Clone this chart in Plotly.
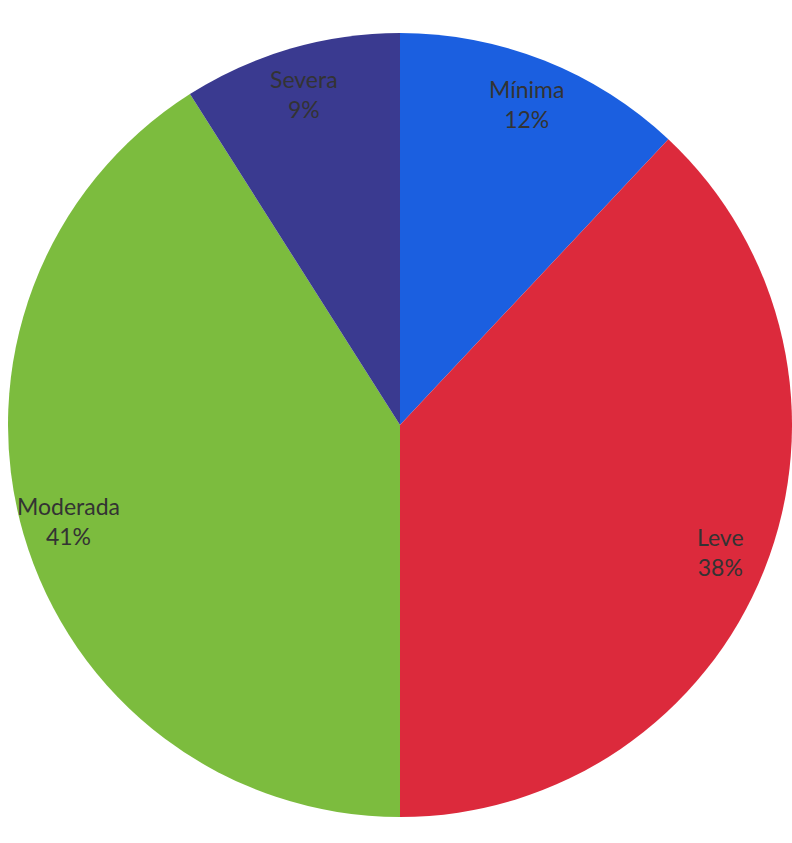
import math
import plotly.graph_objects as go

# Severity categories and their share of cases (%)
categories = ["Mínima", "Leve", "Moderada", "Severa"]
shares = [12, 38, 41, 9]
slice_colors = ["#1b5fe0", "#dc2a3c", "#7cbc3e", "#3a3a90"]

W, H = 792, 843
cx, cy, r = 400, 425, 392  # pie centre and radius in pixels
label_radius = 0.88         # data labels sit near the outer rim

fig = go.Figure(
    go.Pie(
        labels=categories,
        values=shares,
        sort=False,
        direction="clockwise",
        rotation=0,
        marker=dict(colors=slice_colors, line=dict(width=0)),
        textposition="none",
        hoverinfo="label+percent",
        showlegend=False,
        domain=dict(
            x=[(cx - r) / W, (cx + r) / W],
            y=[1 - (cy + r) / H, 1 - (cy - r) / H],
        ),
    )
)

# Category / percentage labels at each slice's mid-angle (clockwise from 12 o'clock)
total = sum(shares)
start = 0.0
for name, val in zip(categories, shares):
    mid = (start + val / 2) / total * 2 * math.pi
    start += val
    px = cx + label_radius * r * math.sin(mid)
    py = cy - label_radius * r * math.cos(mid)
    fig.add_annotation(
        x=px / W,
        y=1 - py / H,
        xref="paper",
        yref="paper",
        text=f"{name}<br>{val}%",
        showarrow=False,
        align="center",
        xanchor="center",
        yanchor="middle",
        font=dict(family="Lato, 'Open Sans', sans-serif", size=23, color="#333333"),
    )

fig.update_layout(
    width=W,
    height=H,
    margin=dict(l=0, r=0, t=0, b=0),
    paper_bgcolor="white",
    plot_bgcolor="white",
)

fig.write_html("out.html")
